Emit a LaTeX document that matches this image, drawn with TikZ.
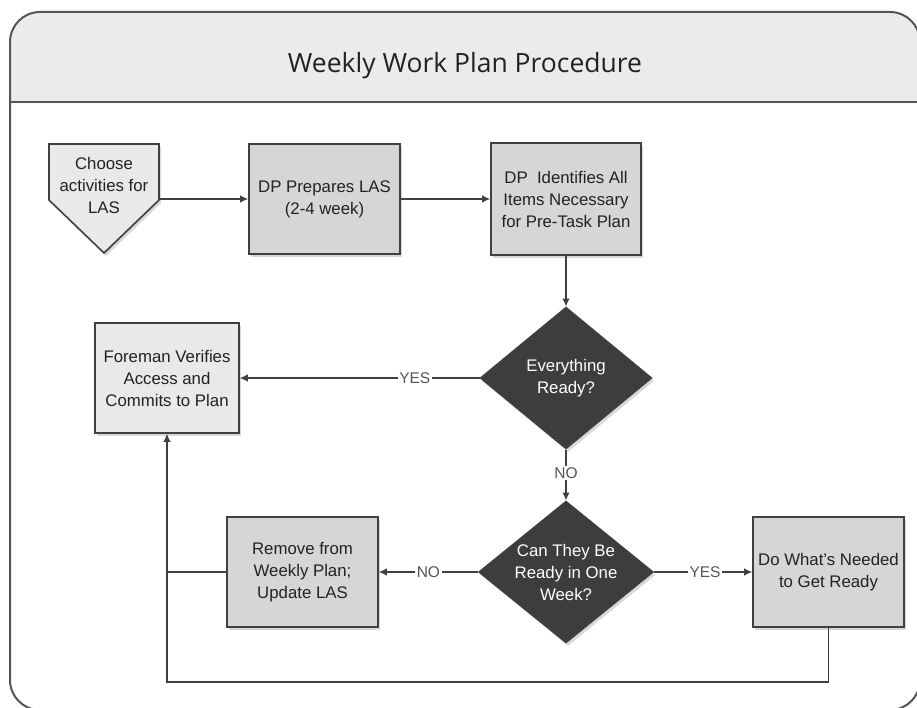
\documentclass[tikz,border=0pt]{standalone}
\usepackage{fontspec}
\setmainfont{Liberation Sans}
\newfontfamily\titlefont{Open Sans}
\usetikzlibrary{shapes.geometric,arrows.meta,shadows}
\definecolor{bordergray}{HTML}{555555}
\definecolor{headfill}{HTML}{EBEBEB}
\definecolor{boxdark}{HTML}{D6D6D6}
\definecolor{boxlight}{HTML}{E9E9E9}
\definecolor{diafill}{HTML}{3D3D3D}
\definecolor{linegray}{HTML}{404040}
\definecolor{labelgray}{HTML}{555555}
\definecolor{textdark}{HTML}{222222}
\begin{document}
\begin{tikzpicture}[x=1pt,y=-1pt,
  txt/.style={font=\fontsize{16.8}{22}\selectfont, align=center, text=textdark},
  shade3/.style={drop shadow={shadow xshift=2pt,shadow yshift=-3pt,opacity=0.3}},
  procbox/.style={txt, draw=linegray, line width=1.6pt, fill=boxdark, minimum width=151pt, minimum height=110pt, inner sep=2pt, shade3},
  lightbox/.style={procbox, fill=boxlight},
  decision/.style={diamond, draw=linegray, line width=1pt, fill=diafill, text=white, font=\fontsize{16.8}{22}\selectfont, align=center, inner sep=0pt, shade3},
  conn/.style={draw=linegray, line width=1.3pt},
  arr/.style={conn, -{Latex[length=8pt,width=7.5pt]}},
  lab/.style={font=\fontsize{15.5}{15.5}\selectfont, text=labelgray, fill=white, inner sep=1.5pt}
]
\clip (0,0) rectangle (917,708);
\path[use as bounding box] (0,0) rectangle (917,708);
% frame
\fill[white, rounded corners=30pt] (10,12) rectangle (920,710);
\begin{scope}
  \clip (0,0) rectangle (930,102);
  \fill[headfill, rounded corners=30pt] (10,12) rectangle (920,710);
\end{scope}
\draw[bordergray, line width=2pt, rounded corners=30pt] (10,12) rectangle (920,710);
\draw[bordergray, line width=2pt] (10,102) -- (920,102);
\node[font=\titlefont\fontsize{26.5}{26.5}\selectfont, text=textdark] (title) at (465,66) {Weekly Work Plan Procedure};

% start pentagon
\path[fill=boxlight, draw=linegray, line width=1.6pt, shade3] (49,144) -- (159,144) -- (159,200) -- (104,253) -- (49,200) -- cycle;
\node[txt, minimum width=110pt, inner sep=0pt] (choose) at (104,185) {Choose\\activities for\\LAS};

\node[procbox] (prep) at (324.5,199) {DP Prepares LAS\\(2-4 week)};
\node[procbox, minimum width=150pt, minimum height=112pt] (ident) at (566,199) {DP~ Identifies All\\Items Necessary\\for Pre-Task Plan};
\node[decision, minimum width=172pt, minimum height=142pt] (ready) at (566,378) {Everything\\Ready?};
\node[lightbox, minimum width=144pt] (foreman) at (167,378) {Foreman Verifies\\Access and\\Commits to Plan};
\node[decision, minimum width=175pt, minimum height=142pt, inner sep=-6pt] (can) at (566,572) {Can They Be\\Ready in One\\Week?};
\node[procbox] (remove) at (302.5,572) {Remove from\\Weekly Plan;\\Update LAS};
\node[procbox] (dowhat) at (828.5,572) {Do What’s Needed\\to Get Ready};

\coordinate (join) at (167,572);
\coordinate (bot) at (167,682);

\draw[arr] (choose.east |- prep.west) -- (prep.west);
\draw[arr] (prep.east) -- (ident.west);
\draw[arr] (ident.south) -- (ready.north);
\draw[arr] (ready.west) -- node[lab, pos=0.27] {YES} (foreman.east);
\draw[arr] (ready.south) -- node[lab, pos=0.47] {NO} (can.north);
\draw[arr] (can.west) -- node[lab, pos=0.5] {NO} (remove.east);
\draw[arr] (can.east) -- node[lab, pos=0.52] {YES} (dowhat.west);
\draw[conn] (remove.west) -- (join);
\draw[arr] (dowhat.south) |- (bot) -- (foreman.south);
\end{tikzpicture}
\end{document}
